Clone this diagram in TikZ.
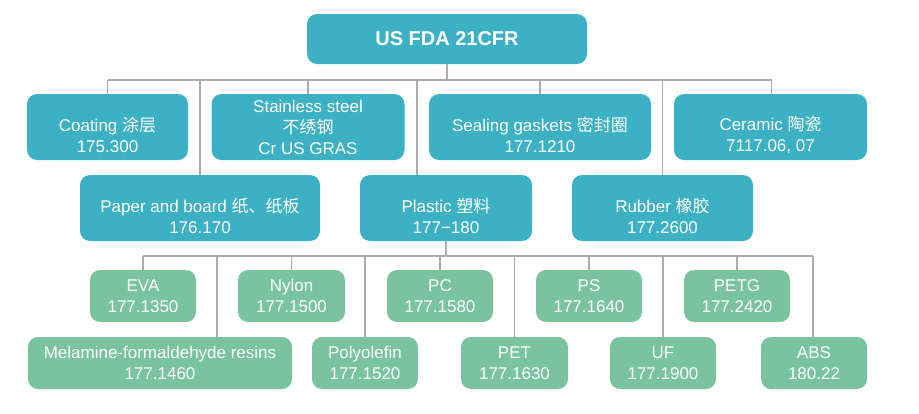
\documentclass[tikz,border=0pt]{standalone}
\usepackage{fontspec}
\usepackage{xcolor}
\usepackage{tikz}
\usetikzlibrary{positioning}
\setmainfont{Liberation Sans}
\newfontfamily\cjk{Noto Sans CJK SC}
\definecolor{tuerkis}{RGB}{59,177,195}
\definecolor{mint}{RGB}{122,195,159}
\definecolor{linie}{RGB}{172,172,172}
\newcommand{\Tief}{\rule{0pt}{31pt}} % Text in den oberen Kaesten etwas tiefer
\tikzset{
  Kasten/.style={rounded corners=10pt,text=white,align=center,inner sep=0pt,
    font=\fontsize{17}{21}\selectfont}, % Grundform
  TKasten/.style={Kasten,fill=tuerkis,minimum height=66pt}, % obere Ebenen
  GKasten/.style={Kasten,fill=mint,minimum height=52pt},    % Kunststoffe
  Leitung/.style={draw=linie,line width=1.4pt}              % Verbindungslinien
}

\begin{document}
\begin{tikzpicture}[x=1pt,y=-1pt]
\useasboundingbox (0,0) rectangle (919,413);

%Hilfspunkte
\coordinate (B1) at (0,80);
\coordinate (B2) at (0,256);

%Knoten
\node[TKasten,minimum width=280pt,minimum height=50pt,
  font=\fontsize{20}{24}\selectfont\bfseries] (fda) at (447,39) {US FDA 21CFR};

\node[TKasten,minimum width=161pt] (coating) at (107.5,127) {\Tief Coating {\cjk 涂层}\\175.300};
\node[TKasten,minimum width=193pt] (steel) at (308,127) {Stainless steel\\{\cjk 不绣钢}\\Cr US GRAS};
\node[TKasten,minimum width=222pt] (sealing) at (540,127) {\Tief Sealing gaskets {\cjk 密封圈}\\177.1210};
\node[TKasten,minimum width=193pt] (ceramic) at (770.5,127) {\Tief Ceramic {\cjk 陶瓷}\\7117.06, 07};

\node[TKasten,minimum width=240pt] (paper) at (200,208) {\Tief Paper and board {\cjk 纸、纸板}\\176.170};
\node[TKasten,minimum width=172pt] (plastic) at (446,208) {\Tief Plastic {\cjk 塑料}\\177−180};
\node[TKasten,minimum width=181pt] (rubber) at (662.5,208) {\Tief Rubber {\cjk 橡胶}\\177.2600};

\node[GKasten,minimum width=106pt] (eva) at (143,296) {EVA\\177.1350};
\node[GKasten,minimum width=107pt] (nylon) at (291.5,296) {Nylon\\177.1500};
\node[GKasten,minimum width=106pt] (pc) at (440,296) {PC\\177.1580};
\node[GKasten,minimum width=106pt] (ps) at (589,296) {PS\\177.1640};
\node[GKasten,minimum width=106pt] (petg) at (737,296) {PETG\\177.2420};

\node[GKasten,minimum width=264pt] (mf) at (160,363) {Melamine-formaldehyde resins\\177.1460};
\node[GKasten,minimum width=106pt] (po) at (365,363) {Polyolefin\\177.1520};
\node[GKasten,minimum width=107pt] (pet) at (514.5,363) {PET\\177.1630};
\node[GKasten,minimum width=106pt] (uf) at (663,363) {UF\\177.1900};
\node[GKasten,minimum width=106pt] (abs) at (814,363) {ABS\\180.22};

%Leitungen Ebene 1
\draw[Leitung] (fda.south) -- (fda.south |- B1);
\draw[Leitung] (coating.north |- B1) -- ([xshift=1pt]ceramic.north |- B1);
\foreach \k in {coating,steel,sealing,paper,rubber}
  \draw[Leitung] (\k.north) -- (\k.north |- B1);
\draw[Leitung] ([xshift=1pt]ceramic.north) -- ([xshift=1pt]ceramic.north |- B1);
\draw[Leitung] ([xshift=-29pt]plastic.north) -- ([xshift=-29pt]plastic.north |- B1);

%Leitungen Ebene 2
\draw[Leitung] (plastic.south) -- (plastic.south |- B2);
\draw[Leitung] (eva.north |- B2) -- ([xshift=-1pt]abs.north |- B2);
\foreach \k in {eva,nylon,pc,ps,petg,po,pet,uf}
  \draw[Leitung] (\k.north) -- (\k.north |- B2);
\draw[Leitung] ([xshift=-1pt]abs.north) -- ([xshift=-1pt]abs.north |- B2);
\draw[Leitung] ([xshift=57pt]mf.north) -- ([xshift=57pt]mf.north |- B2);

\end{tikzpicture}
\end{document}
